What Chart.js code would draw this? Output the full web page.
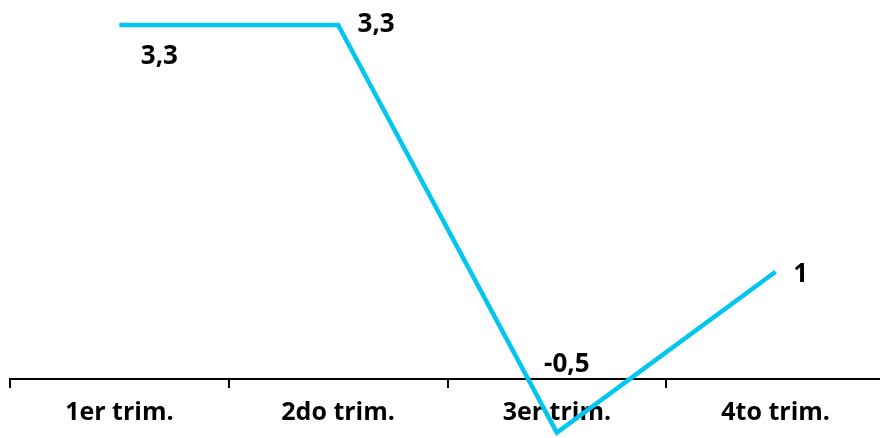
<!DOCTYPE html>
<html>
<head>
<meta charset="utf-8">
<script src="https://cdn.jsdelivr.net/npm/chart.js@4.4.1/dist/chart.umd.min.js"></script>
<style>
  html, body { margin: 0; padding: 0; background: #fff; overflow: hidden; }
  #wrap { width: 885px; height: 438px; }
</style>
</head>
<body>
<div id="wrap"><canvas id="chart"></canvas></div>
<script>
// datos
const categories = ['1er trim.', '2do trim.', '3er trim.', '4to trim.'];
const values = [3.3, 3.3, -0.5, 1];
const valueLabels = ['3,3', '3,3', '-0,5', '1'];

// desplazamiento de cada etiqueta respecto a su punto (px)
const labelOffsets = [[40, 32], [38, 0], [10, -68], [25, 3]];

const FONT = '"Open Sans", sans-serif';

// etiquetas de valores dibujadas junto a cada punto
const valueLabelPlugin = {
    id: 'valueLabels',
    afterDatasetsDraw(chart) {
        const ctx = chart.ctx;
        const meta = chart.getDatasetMeta(0);
        ctx.save();
        ctx.font = 'bold 26px ' + FONT;
        ctx.fillStyle = '#000';
        ctx.textAlign = 'center';
        ctx.textBaseline = 'middle';
        meta.data.forEach((pt, i) => {
            const [dx, dy] = labelOffsets[i];
            ctx.fillText(valueLabels[i], pt.x + dx, pt.y + dy);
        });
        ctx.restore();
    }
};

const ctx = document.getElementById('chart').getContext('2d');
new Chart(ctx, {
    type: 'line',
    data: {
        labels: categories,
        datasets: [{
            data: values,
            borderColor: '#00C6F0',
            borderWidth: 4.5,
            borderCapStyle: 'butt',
            pointRadius: 0,
            tension: 0,
            fill: false,
            clip: false
        }]
    },
    options: {
        responsive: true,
        maintainAspectRatio: false,
        animation: false,
        layout: { padding: { left: 10, right: 0, top: 0, bottom: 0 } },
        plugins: {
            legend: { display: false },
            tooltip: { enabled: false }
        },
        scales: {
            x: {
                offset: true,
                border: { display: true, color: '#000', width: 2 },
                grid: {
                    offset: true,
                    drawOnChartArea: false,
                    drawTicks: true,
                    tickLength: 9,
                    color: '#000',
                    lineWidth: 2
                },
                ticks: {
                    color: '#000',
                    padding: 10,
                    maxRotation: 0,
                    font: { family: FONT, size: 25, weight: 'bold' }
                }
            },
            y: {
                display: false,
                min: 0,
                max: 3.532
            }
        }
    },
    plugins: [valueLabelPlugin]
});
</script>
</body>
</html>
